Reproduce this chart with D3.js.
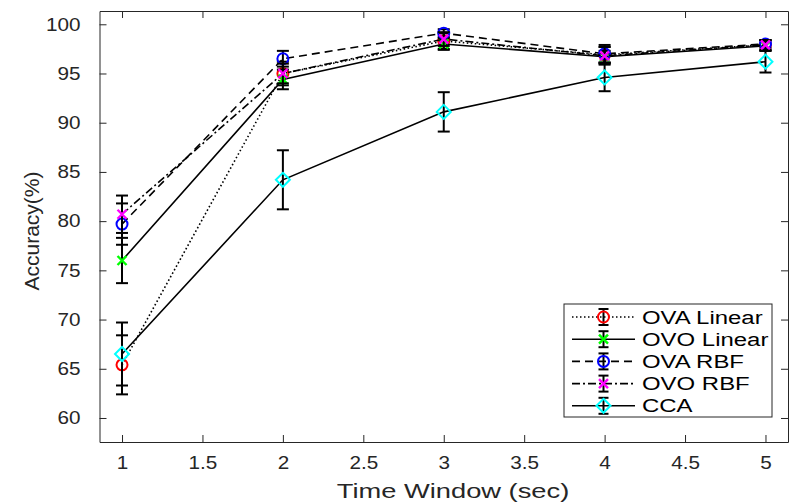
<!DOCTYPE html>
<html><head><meta charset="utf-8">
<script src="https://cdn.jsdelivr.net/npm/d3@7"></script>
<style>body{margin:0;background:#fff}svg{display:block}text{font-family:"Liberation Sans",Arial,sans-serif}</style>
</head><body><svg id="c" width="794" height="504"></svg>
<script>
const timeWindows = [1, 2, 3, 4, 5];
const seriesNames = ["OVA Linear", "OVO Linear", "OVA RBF", "OVO RBF", "CCA"];
const ovaLinear = [65.4, 95.0, 98.3, 96.9, 97.9];
const ovaLinearErr = [3.0, 1.2, 0.8, 0.8, 0.5];
const ovoLinear = [76.0, 94.4, 98.0, 96.7, 97.8];
const ovoLinearErr = [2.3, 1.0, 0.6, 0.6, 0.5];
const ovaRbf = [79.7, 96.5, 99.1, 97.0, 98.0];
const ovaRbfErr = [2.1, 0.8, 0.4, 0.9, 0.4];
const ovoRbf = [80.7, 95.0, 98.5, 96.8, 97.9];
const ovoRbfErr = [1.9, 1.0, 0.7, 0.9, 0.5];
const cca = [66.5, 84.2, 91.1, 94.6, 96.2];
const ccaErr = [3.2, 3.0, 2.0, 1.4, 1.1];
const xTicks = [1, 1.5, 2, 2.5, 3, 3.5, 4, 4.5, 5];
const yTicks = [60, 65, 70, 75, 80, 85, 90, 95, 100];

const styles = [
  {color: "#ff0000", dash: "1.5,2.5", marker: "circle"},
  {color: "#00ff00", dash: null, marker: "x"},
  {color: "#0000ff", dash: "8,5", marker: "circle"},
  {color: "#ff00ff", dash: "8,3,2,3", marker: "x"},
  {color: "#00ffff", dash: null, marker: "diamond"}
];
const values = [ovaLinear, ovoLinear, ovaRbf, ovoRbf, cca];
const errs = [ovaLinearErr, ovoLinearErr, ovaRbfErr, ovoRbfErr, ccaErr];

const L = 99.5, R = 788, T = 11, B = 442;
const x = d3.scaleLinear().domain([0.86, 5.14]).range([L, R]);
const y = d3.scaleLinear().domain([57.56, 101.35]).range([B, T]);
const svg = d3.select("#c");
const axisColor = "#262626";
const SX = 1.15;

// axes
const gx = svg.append("g").attr("transform", `translate(0,${B})`)
  .call(d3.axisBottom(x).tickValues(xTicks).tickSize(-7).tickSizeOuter(0).tickPadding(14).tickFormat(d3.format("")));
const gy = svg.append("g").attr("transform", `translate(${L},0)`)
  .call(d3.axisLeft(y).tickValues(yTicks).tickSize(-7).tickSizeOuter(0).tickPadding(19));
const gxt = svg.append("g").attr("transform", `translate(0,${T})`)
  .call(d3.axisTop(x).tickValues(xTicks).tickSize(-7).tickSizeOuter(0).tickFormat(""));
const gyr = svg.append("g").attr("transform", `translate(${R},0)`)
  .call(d3.axisRight(y).tickValues(yTicks).tickSize(-7).tickSizeOuter(0).tickFormat(""));
[gx, gy, gxt, gyr].forEach(g => {
  g.selectAll("path,line").attr("stroke", axisColor).attr("stroke-width", 1);
  g.selectAll("text").attr("fill", axisColor).attr("font-size", 18).attr("font-family", '"Liberation Sans",Arial,sans-serif');
});
gx.selectAll("text").attr("dy", "0.71em").attr("y", 14).attr("transform", `scale(${SX},1)`);
gy.selectAll("text").attr("x", 0).attr("transform", `translate(-19,0) scale(${SX},1)`);

svg.append("text").attr("transform", `translate(453,498) scale(1.3,1)`).attr("text-anchor", "middle")
  .attr("font-size", 21).attr("fill", axisColor).text("Time Window (sec)");
svg.append("text").attr("transform", `translate(39,231) rotate(-90)`).attr("text-anchor", "middle")
  .attr("font-size", 21).attr("fill", axisColor).text("Accuracy(%)");

function drawMarker(g, m, color, cx, cy) {
  if (m === "circle") {
    g.append("circle").attr("cx", cx).attr("cy", cy).attr("r", 5.5)
      .attr("fill", "none").attr("stroke", color).attr("stroke-width", 2);
  } else if (m === "x") {
    const s = 4.5;
    g.append("path").attr("d", `M${cx - s},${cy - s}L${cx + s},${cy + s}M${cx - s},${cy + s}L${cx + s},${cy - s}`)
      .attr("stroke", color).attr("stroke-width", 2.4).attr("fill", "none");
  } else {
    const s = 7;
    g.append("path").attr("d", `M${cx},${cy - s}L${cx + s},${cy}L${cx},${cy + s}L${cx - s},${cy}Z`)
      .attr("stroke", color).attr("stroke-width", 2).attr("fill", "none");
  }
}

const line = d3.line().x((d, i) => x(timeWindows[i])).y(d => y(d)).curve(d3.curveLinear);
values.forEach((vals, k) => {
  const st = styles[k];
  const g = svg.append("g");
  g.append("path").datum(vals).attr("d", line).attr("fill", "none")
    .attr("stroke", "#000").attr("stroke-width", 1.6)
    .attr("stroke-dasharray", st.dash);
  vals.forEach((v, i) => {
    const cx = x(timeWindows[i]);
    const y1 = y(v + errs[k][i]), y2 = y(v - errs[k][i]);
    g.append("line").attr("x1", cx).attr("x2", cx).attr("y1", y1).attr("y2", y2)
      .attr("stroke", "#000").attr("stroke-width", 2);
    [y1, y2].forEach(yy => g.append("line").attr("x1", cx - 6).attr("x2", cx + 6)
      .attr("y1", yy).attr("y2", yy).attr("stroke", "#000").attr("stroke-width", 2));
    drawMarker(g, st.marker, st.color, cx, y(v));
  });
});

// legend
const lg = svg.append("g");
lg.append("rect").attr("x", 564).attr("y", 304).attr("width", 208).attr("height", 113)
  .attr("fill", "#fff").attr("stroke", axisColor).attr("stroke-width", 1);
seriesNames.forEach((name, k) => {
  const st = styles[k];
  const ry = 317 + k * 22.2;
  lg.append("line").attr("x1", 572).attr("x2", 635).attr("y1", ry).attr("y2", ry)
    .attr("stroke", "#000").attr("stroke-width", 1.6).attr("stroke-dasharray", st.dash);
  const cx = 603.5;
  lg.append("line").attr("x1", cx).attr("x2", cx).attr("y1", ry - 8).attr("y2", ry + 8)
    .attr("stroke", "#000").attr("stroke-width", 2);
  [ry - 8, ry + 8].forEach(yy => lg.append("line").attr("x1", cx - 5).attr("x2", cx + 5)
    .attr("y1", yy).attr("y2", yy).attr("stroke", "#000").attr("stroke-width", 2));
  drawMarker(lg, st.marker, st.color, cx, ry);
  lg.append("text").attr("transform", `translate(642,${ry}) scale(1.26,1)`).attr("dy", "0.35em")
    .attr("font-size", 19).attr("fill", "#000").text(name);
});
</script></body></html>
